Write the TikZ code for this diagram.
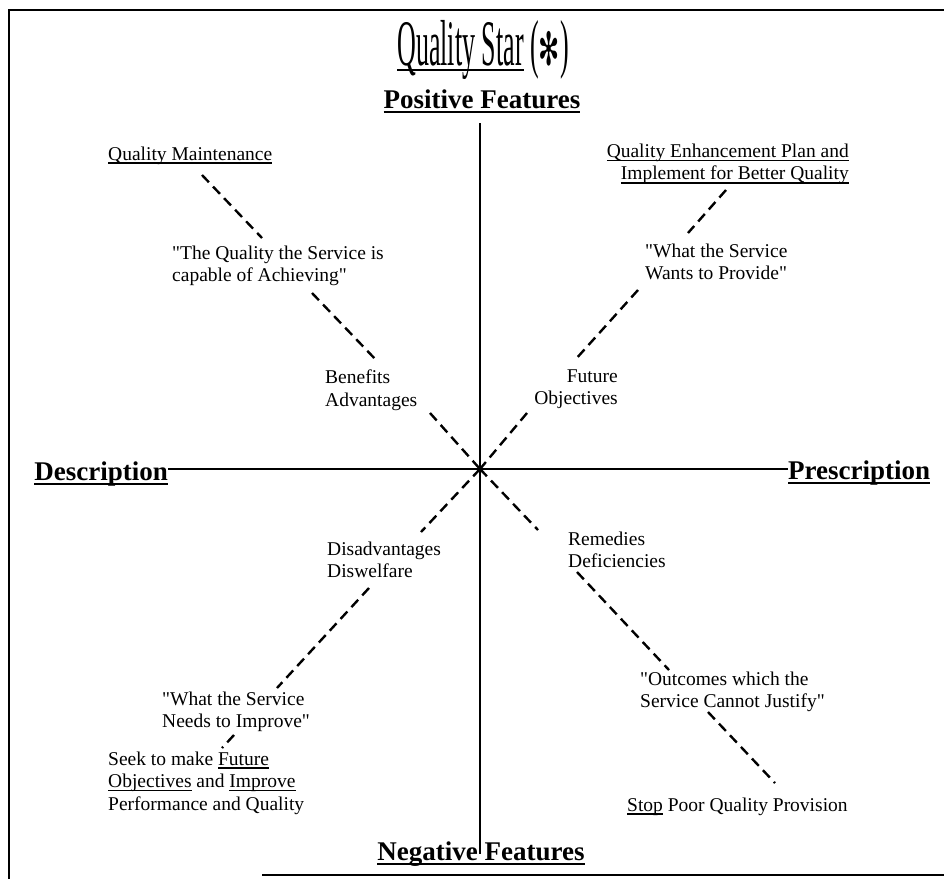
\documentclass[tikz,border=0pt]{standalone}
\usepackage{fontspec}
\setmainfont{Liberation Serif}
\newfontfamily\titlefont{Liberation Serif}[FakeStretch=0.4]
\newfontfamily\symfont{DejaVu Sans}[FakeStretch=0.55]
\usetikzlibrary{calc}
% straight double quote, bypassing the TeX quote mapping
\newcommand\dq{\XeTeXglyph\XeTeXcharglyph"0022\relax}
% underline drawn as a rule below the baseline
\newsavebox\ulbox
\newcommand\ulrule[3]{\sbox\ulbox{#3}\rlap{\rule[-#1]{\wd\ulbox}{#2}}\usebox\ulbox}
\newcommand\bodyul[1]{\ulrule{3.6pt}{1.3pt}{#1}}
\newcommand\headul[1]{\ulrule{5pt}{1.6pt}{#1}}
\begin{document}
\begin{tikzpicture}[x=1pt,y=-1pt,
  lbl/.style={font=\fontsize{19.5}{22.5}\selectfont, inner sep=0pt, align=center},
  lblL/.style={lbl, align=left},
  lblR/.style={lbl, align=right},
  head/.style={font=\fontsize{27}{30}\selectfont\bfseries, inner sep=0pt},
  axis/.style={line width=2.4pt},
  dashln/.style={line width=2.4pt, dash pattern=on 10pt off 6pt}]
\useasboundingbox (0,0) rectangle (944,879);
% frame
\draw[line width=2.5pt] (944,10) -- (9,10) -- (9,879);
\draw[line width=2pt] (262,875) -- (944,875);

% title and axis headings
\node[inner sep=0pt, anchor=base] (title) at (483,65) {\titlefont\fontsize{65}{70}\selectfont\ulrule{6pt}{1.6pt}{Quality Star} ({\symfont\fontsize{46}{46}\selectfont ✻})};
\node[head, anchor=base] (pos) at (482,108) {\headul{Positive Features}};
\node[head, anchor=base] (neg) at (481,860) {\headul{Negative Features}};
\node[head, anchor=base east] (desc) at (168,480) {\headul{Description}};
\node[head, anchor=base west] (presc) at (788,479) {\headul{Prescription}};
\coordinate (O) at (480,469);

% axes
\draw[axis] ([yshift=-10pt]O |- pos.south) -- (O |- neg.center);
\draw[axis] (desc.east |- O) -- (presc.west |- O);

% upper left arm
\node[lbl, anchor=base west] (qm) at (108,160) {\bodyul{Quality Maintenance}};
\node[lblL, anchor=west] (qa) at (172,266) {\dq The Quality the Service is\\capable of Achieving\dq};
\node[lblL, anchor=west] (ba) at (325,390) {Benefits\\Advantages};
% upper right arm
\node[lblR, anchor=east] (qe) at (849,164) {\bodyul{Quality Enhancement Plan and}\\\bodyul{Implement for Better Quality}};
\node[lblL, anchor=west] (ws) at (645,262) {\dq What the Service\\Wants to Provide\dq};
\node[lblR, anchor=east] (fo) at (618,389) {Future\\Objectives};
% lower left arm
\node[lblL, anchor=west] (dd) at (327,560) {Disadvantages\\Diswelfare};
\node[lblL, anchor=west] (wn) at (162,712) {\dq What the Service\\Needs to Improve\dq};
\node[lblL, anchor=west] (sk) at (108,783) {Seek to make \bodyul{Future}\\\bodyul{Objectives} and \bodyul{Improve}\\Performance and Quality};
% lower right arm
\node[lblL, anchor=west] (rd) at (568,550) {Remedies\\Deficiencies};
\node[lblL, anchor=west] (oc) at (640,692) {\dq Outcomes which the\\Service Cannot Justify\dq};
\node[lblL, anchor=base west] (sp) at (627,811) {\bodyul{Stop} Poor Quality Provision};

% break points of the four dashed arms, each arm a straight line through O
\coordinate (tl1) at (202,175);  \coordinate (tl2) at (262,238);
\coordinate (tl3) at (312,293);  \coordinate (tl4) at (378,362);
\coordinate (tl5) at (430,413);
\coordinate (tr1) at (726,190);  \coordinate (tr2) at (688,233);
\coordinate (tr3) at (638,290);  \coordinate (tr4) at (575,360);
\coordinate (tr5) at (527,413);
\coordinate (bl1) at (421,532);  \coordinate (bl2) at (369,588);
\coordinate (bl3) at (277,688);  \coordinate (bl4) at (234,735);
\coordinate (bl5) at (222,748);
\coordinate (br1) at (538,530);  \coordinate (br2) at (577,572);
\coordinate (br3) at (669,670);  \coordinate (br4) at (708,712);
\coordinate (br5) at (775,783);

% dashed connectors
\draw[dashln] (tl1) -- (tl2);  \draw[dashln] (tl3) -- (tl4);  \draw[dashln] (tl5) -- (O);
\draw[dashln] (tr1) -- (tr2);  \draw[dashln] (tr3) -- (tr4);  \draw[dashln] (tr5) -- (O);
\draw[dashln] (O) -- (bl1);  \draw[dashln] (bl2) -- (bl3);  \draw[dashln] (bl4) -- (bl5);
\draw[dashln] (O) -- (br1);  \draw[dashln] (br2) -- (br3);  \draw[dashln] (br4) -- (br5);
\end{tikzpicture}
\end{document}
